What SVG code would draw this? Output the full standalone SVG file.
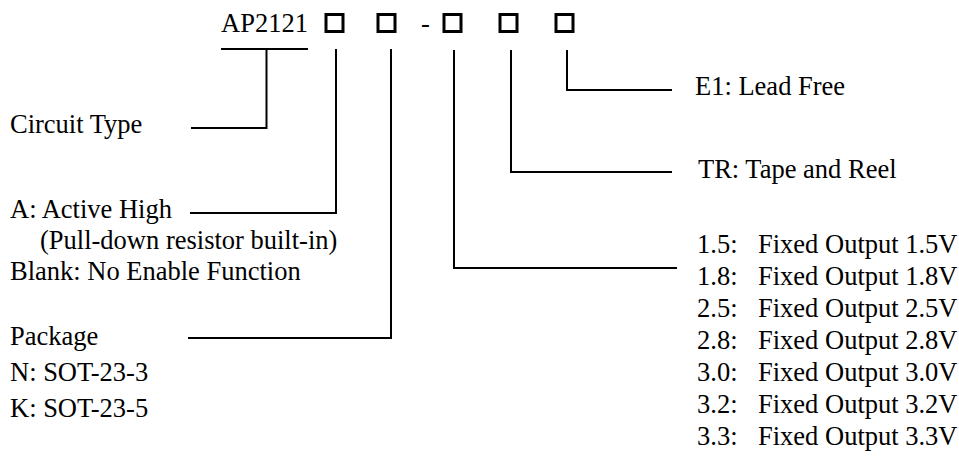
<svg xmlns="http://www.w3.org/2000/svg" width="959" height="461" viewBox="0 0 959 461">
<style>
text{font-family:"Liberation Serif","Times New Roman",serif;font-size:26.5px;fill:#000}
.box{fill:none;stroke:#000;stroke-width:3}
.ln{fill:none;stroke:#000;stroke-width:2}
</style>
<rect width="959" height="461" fill="#fff"/>
<g id="part-number">
<text x="221" y="32">AP2121</text>
<rect class="box" x="326" y="14.5" width="17" height="17"/>
<rect class="box" x="378" y="14.5" width="17" height="17"/>
<text x="421" y="32">-</text>
<rect class="box" x="444" y="14.5" width="17" height="17"/>
<rect class="box" x="500" y="14.5" width="17" height="17"/>
<rect class="box" x="556" y="14.5" width="17" height="17"/>
</g>
<g id="connectors">
<path class="ln" d="M221 49H308M266.5 49V128H191"/>
<path class="ln" d="M336 49V213H190"/>
<path class="ln" d="M391 49V338H188"/>
<path class="ln" d="M454 50V268H677"/>
<path class="ln" d="M511 50V172H672"/>
<path class="ln" d="M567 50V90H672"/>
</g>
<g id="circuit-type"><text x="10" y="133">Circuit Type</text></g>
<g id="enable">
<text x="10" y="218">A: Active High</text>
<text x="40" y="249">(Pull-down resistor built-in)</text>
<text x="10" y="280">Blank: No Enable Function</text>
</g>
<g id="package">
<text x="10" y="345">Package</text>
<text x="10" y="381">N: SOT-23-3</text>
<text x="10" y="417">K: SOT-23-5</text>
</g>
<g id="lead-free"><text x="695" y="95">E1: Lead Free</text></g>
<g id="packing"><text x="698" y="178">TR: Tape and Reel</text></g>
<g id="output-voltage">
<text x="697" y="253">1.5:</text><text x="758" y="253">Fixed Output 1.5V</text>
<text x="697" y="285">1.8:</text><text x="758" y="285">Fixed Output 1.8V</text>
<text x="697" y="317">2.5:</text><text x="758" y="317">Fixed Output 2.5V</text>
<text x="697" y="349">2.8:</text><text x="758" y="349">Fixed Output 2.8V</text>
<text x="697" y="381">3.0:</text><text x="758" y="381">Fixed Output 3.0V</text>
<text x="697" y="413">3.2:</text><text x="758" y="413">Fixed Output 3.2V</text>
<text x="697" y="445">3.3:</text><text x="758" y="445">Fixed Output 3.3V</text>
</g>
</svg>
